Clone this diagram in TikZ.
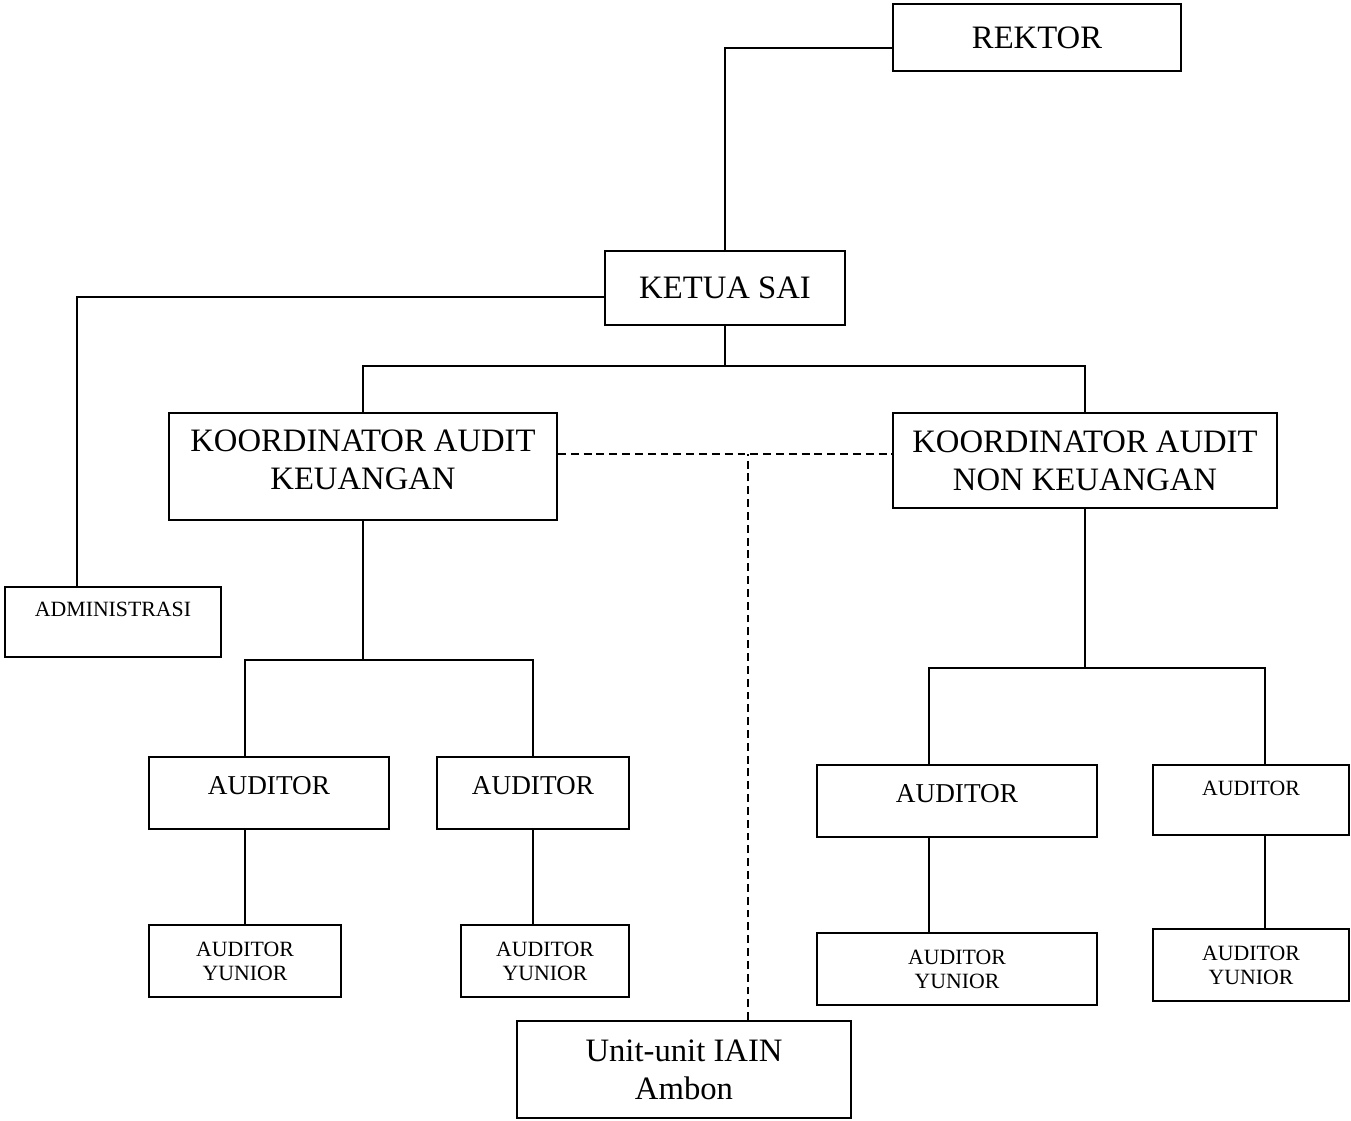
\documentclass[tikz,border=0pt]{standalone}
\usepackage{fontspec}
\setmainfont{Liberation Serif}

\begin{document}
\begin{tikzpicture}[line width=1.1pt]
  \def\f{0.02}

\tikzstyle{box}=[draw,line width=1.1pt,inner sep=0pt,align=center]
\tikzstyle{big}=[font=\fontsize{18.6pt}{21.6pt}\selectfont]
\tikzstyle{mid}=[font=\fontsize{15.5pt}{18pt}\selectfont]
\tikzstyle{small}=[font=\fontsize{12.4pt}{13.8pt}\selectfont]
\tikzstyle{putus}=[dash pattern=on 4.5pt off 2.8pt]
\useasboundingbox (0,0) rectangle (1351*\f,-1120*\f);

\node[box,big,minimum width=288*\f cm,minimum height=67*\f cm] (rektor) at (1037*\f,-37.5*\f) {REKTOR};
\node[box,big,minimum width=240*\f cm,minimum height=74*\f cm] (ketua) at (725*\f,-288*\f) {KETUA SAI};
\draw ([yshift=-10.5*\f cm]rektor.west) -| (ketua.north);
\node[box,big,minimum width=388*\f cm,minimum height=107*\f cm,text depth=13*\f cm] (kkeu) at (363*\f,-466.5*\f) {KOORDINATOR AUDIT\\KEUANGAN};
\node[box,big,minimum width=384*\f cm,minimum height=95*\f cm] (knon) at (1085*\f,-460.5*\f) {KOORDINATOR AUDIT\\NON KEUANGAN};
\draw (ketua.south) -- ++(0,-40*\f) coordinate (kbag);
\draw (kkeu.north) |- (kbag) -| (knon.north);
\node[box,small,minimum width=216*\f cm,minimum height=70*\f cm,text depth=26*\f cm] (admin) at (113*\f,-622*\f) {ADMINISTRASI};
\draw ([yshift=-9*\f cm]ketua.west) -| ([xshift=-36*\f cm]admin.north);

% unit keuangan
\node[box,mid,minimum width=240*\f cm,minimum height=72*\f cm,text depth=16*\f cm] (aud1) at (269*\f,-793*\f) {AUDITOR};
\node[box,mid,minimum width=192*\f cm,minimum height=72*\f cm,text depth=16*\f cm] (aud2) at (533*\f,-793*\f) {AUDITOR};
\draw (kkeu.south) -- ++(0,-139*\f) coordinate (kkbag);
\draw ([xshift=-24*\f cm]aud1.north) |- (kkbag) -| (aud2.north);
\node[box,small,minimum width=192*\f cm,minimum height=72*\f cm] (yun1) at (245*\f,-961*\f) {AUDITOR\\YUNIOR};
\node[box,small,minimum width=168*\f cm,minimum height=72*\f cm] (yun2) at (545*\f,-961*\f) {AUDITOR\\YUNIOR};
\draw ([xshift=-24*\f cm]aud1.south) -- (yun1.north);
\draw (aud2.south) -- ([xshift=-12*\f cm]yun2.north);

% unit non keuangan
\node[box,mid,minimum width=280*\f cm,minimum height=72*\f cm,text depth=16*\f cm] (aud3) at (957*\f,-801*\f) {AUDITOR};
\node[box,small,minimum width=196*\f cm,minimum height=70*\f cm,text depth=24*\f cm] (aud4) at (1251*\f,-800*\f) {AUDITOR};
\draw (knon.south) -- ++(0,-159*\f) coordinate (knbag);
\draw ([xshift=-28*\f cm]aud3.north) |- (knbag) -| ([xshift=14*\f cm]aud4.north);
\node[box,small,minimum width=280*\f cm,minimum height=72*\f cm] (yun3) at (957*\f,-969*\f) {AUDITOR\\YUNIOR};
\node[box,small,minimum width=196*\f cm,minimum height=72*\f cm] (yun4) at (1251*\f,-965*\f) {AUDITOR\\YUNIOR};
\draw ([xshift=-28*\f cm]aud3.south) -- ([xshift=-28*\f cm]yun3.north);
\draw ([xshift=14*\f cm]aud4.south) -- ([xshift=14*\f cm]yun4.north);

% koordinasi dengan unit
\node[box,big,minimum width=334*\f cm,minimum height=97*\f cm] (unit) at (684*\f,-1069.5*\f) {Unit-unit IAIN\\Ambon};
\draw[putus] ([yshift=12.5*\f cm]kkeu.east) -- ([yshift=12.5*\f cm]kkeu.east -| knon.west);
\draw[putus] ([xshift=64*\f cm]unit.north) -- ([xshift=64*\f cm,yshift=12.5*\f cm]unit.north |- kkeu.east);
\end{tikzpicture}
\end{document}
